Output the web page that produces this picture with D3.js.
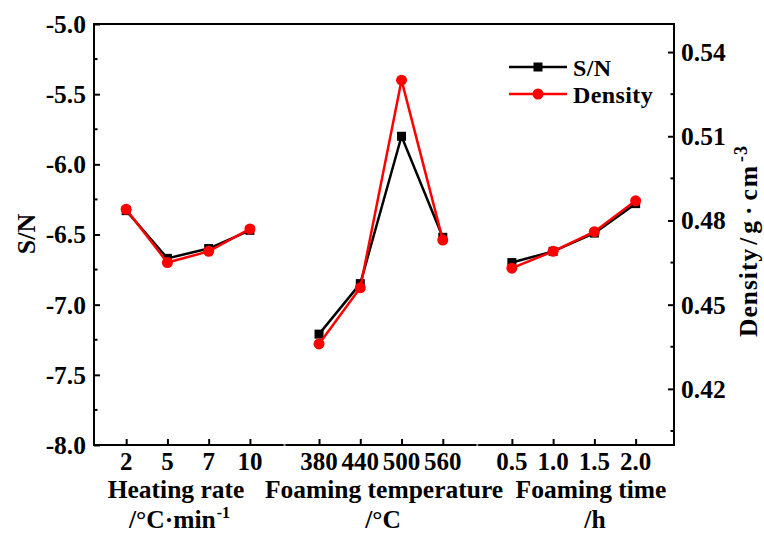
<!DOCTYPE html>
<html>
<head>
<meta charset="utf-8">
<script src="https://cdn.jsdelivr.net/npm/d3@7"></script>
<style>
  html, body { margin: 0; padding: 0; background: #fff; }
</style>
</head>
<body>
<svg id="chart" width="764" height="535"></svg>
<script>
// Factor groups and their levels
const groups = ["Heating rate", "Foaming temperature", "Foaming time"];
const groupUnits = ["/°C·min", "/°C", "/h"];
const levels = [
  ["2", "5", "7", "10"],
  ["380", "440", "500", "560"],
  ["0.5", "1.0", "1.5", "2.0"]
];

// Signal-to-noise ratio for each level
const snValues = [
  [-6.33, -6.67, -6.60, -6.47],
  [-7.21, -6.85, -5.80, -6.52],
  [-6.70, -6.62, -6.49, -6.28]
];

// Density (g·cm^-3) for each level
const densityValues = [
  [0.484, 0.465, 0.469, 0.477],
  [0.436, 0.456, 0.530, 0.473],
  [0.463, 0.469, 0.476, 0.487]
];

const snTicks = [-8.0, -7.5, -7.0, -6.5, -6.0, -5.5, -5.0];
const densityTicks = [0.42, 0.45, 0.48, 0.51, 0.54];

const FONT = "'Liberation Serif', 'DejaVu Serif', serif";

const svg = d3.select("#chart");
const margin = { left: 94, right: 674, top: 24, bottom: 445 };

// Slot positions: four levels per group, groups separated by a wider gap
const groupGap = 1.675;
const points = [];
groups.forEach((g, gi) => {
  levels[gi].forEach((lv, li) => {
    points.push({
      group: gi, level: lv,
      slot: gi * (3 + groupGap) + li,
      sn: snValues[gi][li],
      density: densityValues[gi][li]
    });
  });
});
const lastSlot = 2 * (3 + groupGap) + 3;

const x = d3.scaleLinear().domain([-0.78, lastSlot + 0.93]).range([margin.left, margin.right]);
const yL = d3.scaleLinear().domain([-8.0, -5.0]).range([margin.bottom, margin.top]);
const yR = d3.scaleLinear().domain([0.40, 0.55]).range([margin.bottom, margin.top]);

function label(sel, size) {
  return sel.attr("font-family", FONT).attr("font-weight", "bold")
    .style("font-family", FONT).style("font-weight", "bold")
    .style("font-size", size + "px").attr("fill", "#000");
}
// plain hyphen for negative numbers
const fmt1 = d => d3.format(".1f")(d).replace("\u2212", "-");

// Left axis (ticks inward)
const leftAxis = svg.append("g").attr("transform", `translate(${margin.left},0)`)
  .call(d3.axisRight(yL).tickValues(snTicks).tickSize(6).tickFormat(fmt1));
leftAxis.select(".domain").remove();
leftAxis.selectAll(".tick line").attr("stroke", "#000").attr("stroke-width", 2);
label(leftAxis.selectAll(".tick text"), 25.5)
  .attr("x", -8).attr("text-anchor", "end").attr("dy", "0.33em");
// minor ticks on left axis
svg.append("g").selectAll("line")
  .data(d3.range(-7.75, -5.0, 0.5))
  .join("line")
  .attr("x1", margin.left).attr("x2", margin.left + 3.5)
  .attr("y1", d => yL(d)).attr("y2", d => yL(d))
  .attr("stroke", "#000").attr("stroke-width", 2);

// Right axis (ticks inward)
const rightAxis = svg.append("g").attr("transform", `translate(${margin.right},0)`)
  .call(d3.axisLeft(yR).tickValues(densityTicks).tickSize(6).tickFormat(d3.format(".2f")));
rightAxis.select(".domain").remove();
rightAxis.selectAll(".tick line").attr("stroke", "#000").attr("stroke-width", 2);
label(rightAxis.selectAll(".tick text"), 25.5)
  .attr("x", 7).attr("text-anchor", "start").attr("dy", "0.33em");
svg.append("g").selectAll("line")
  .data([0.405, 0.435, 0.465, 0.495, 0.525])
  .join("line")
  .attr("x1", margin.right - 3.5).attr("x2", margin.right)
  .attr("y1", d => yR(d)).attr("y2", d => yR(d))
  .attr("stroke", "#000").attr("stroke-width", 2);

// Bottom axis ticks (inward) and labels
const bottom = svg.append("g").attr("transform", `translate(0,${margin.bottom})`)
  .call(d3.axisTop(x).tickValues(points.map(p => p.slot)).tickSize(6).tickFormat(""));
bottom.select(".domain").remove();
bottom.selectAll(".tick line").attr("stroke", "#000").attr("stroke-width", 2);

label(svg.append("g").selectAll("text")
  .data(points)
  .join("text"), 25)
  .attr("x", d => x(d.slot))
  .attr("y", 470)
  .attr("text-anchor", "middle")
  .text(d => d.level);

// Frame
svg.append("rect")
  .attr("x", margin.left).attr("y", margin.top)
  .attr("width", margin.right - margin.left)
  .attr("height", margin.bottom - margin.top)
  .attr("fill", "none").attr("stroke", "#000").attr("stroke-width", 2);

// Small marks at group separators on the bottom axis
[0, 1].forEach(gi => {
  const s = gi * (3 + groupGap) + 3 + groupGap / 2;
  svg.append("rect")
    .attr("x", x(s) - 1).attr("y", margin.bottom - 1)
    .attr("width", 2).attr("height", 2).attr("fill", "#999");
});

// Group titles
const titleX = [176, 384, 591];
label(svg.append("g").selectAll("text")
  .data(groups)
  .join("text"), 25.5)
  .attr("x", (d, i) => titleX[i])
  .attr("y", 498)
  .attr("text-anchor", "middle")
  .text(d => d);

const unitX = [129, 383, 595];
const unitAnchor = ["start", "middle", "middle"];
const unitText = label(svg.append("g").selectAll("text")
  .data(groupUnits)
  .join("text"), 25.5)
  .attr("x", (d, i) => unitX[i])
  .attr("y", 528)
  .attr("text-anchor", (d, i) => unitAnchor[i]);
unitText.append("tspan").text(d => d);
unitText.filter((d, i) => i === 0).append("tspan")
  .attr("dx", 1).attr("dy", -10).style("font-size", "16px").text("-1");

// Axis titles
label(svg.append("text"), 26)
  .attr("transform", `translate(35,234) rotate(-90)`)
  .attr("text-anchor", "middle")
  .text("S/N");

const rTitle = label(svg.append("text"), 25.5)
  .attr("transform", `translate(757,337) rotate(-90)`)
  .attr("text-anchor", "start")
  .attr("letter-spacing", 1);
rTitle.append("tspan").text("Density");
[["/", 3], ["g", 3], ["·", 5], ["c", 5], ["m", 1]].forEach(([ch, dx]) => {
  rTitle.append("tspan").attr("dx", dx).text(ch);
});
rTitle.append("tspan").attr("dx", 3).attr("dy", -10).style("font-size", "18px").text("-3");

// Series lines, one segment run per factor group
const lineSN = d3.line().x(d => x(d.slot)).y(d => yL(d.sn));
const lineD = d3.line().x(d => x(d.slot)).y(d => yR(d.density));
const byGroup = d3.groups(points, d => d.group).map(g => g[1]);

const plot = svg.append("g");
plot.selectAll(".sn-line").data(byGroup).join("path")
  .attr("class", "sn-line")
  .attr("d", lineSN).attr("fill", "none")
  .attr("stroke", "#000").attr("stroke-width", 2.5);
plot.selectAll(".sn-pt").data(points).join("rect")
  .attr("class", "sn-pt")
  .attr("x", d => x(d.slot) - 4.5).attr("y", d => yL(d.sn) - 4.5)
  .attr("width", 9).attr("height", 9).attr("fill", "#000");

plot.selectAll(".d-line").data(byGroup).join("path")
  .attr("class", "d-line")
  .attr("d", lineD).attr("fill", "none")
  .attr("stroke", "#ff0000").attr("stroke-width", 2.5);
plot.selectAll(".d-pt").data(points).join("circle")
  .attr("class", "d-pt")
  .attr("cx", d => x(d.slot)).attr("cy", d => yR(d.density))
  .attr("r", 5.5).attr("fill", "#ff0000");

// Legend
const legend = svg.append("g");
const legendItems = [
  { label: "S/N", color: "#000", shape: "square", y: 67 },
  { label: "Density", color: "#ff0000", shape: "circle", y: 94 }
];
legendItems.forEach(it => {
  legend.append("line")
    .attr("x1", 509).attr("x2", 567).attr("y1", it.y).attr("y2", it.y)
    .attr("stroke", it.color).attr("stroke-width", 2.5);
  if (it.shape === "square") {
    legend.append("rect").attr("x", 538 - 4.5).attr("y", it.y - 4.5)
      .attr("width", 9).attr("height", 9).attr("fill", it.color);
  } else {
    legend.append("circle").attr("cx", 538).attr("cy", it.y).attr("r", 5.5).attr("fill", it.color);
  }
  label(legend.append("text"), 24).attr("x", 573).attr("y", it.y + 8.5)
    .attr("letter-spacing", 0.4)
    .text(it.label);
});
</script>
</body>
</html>
